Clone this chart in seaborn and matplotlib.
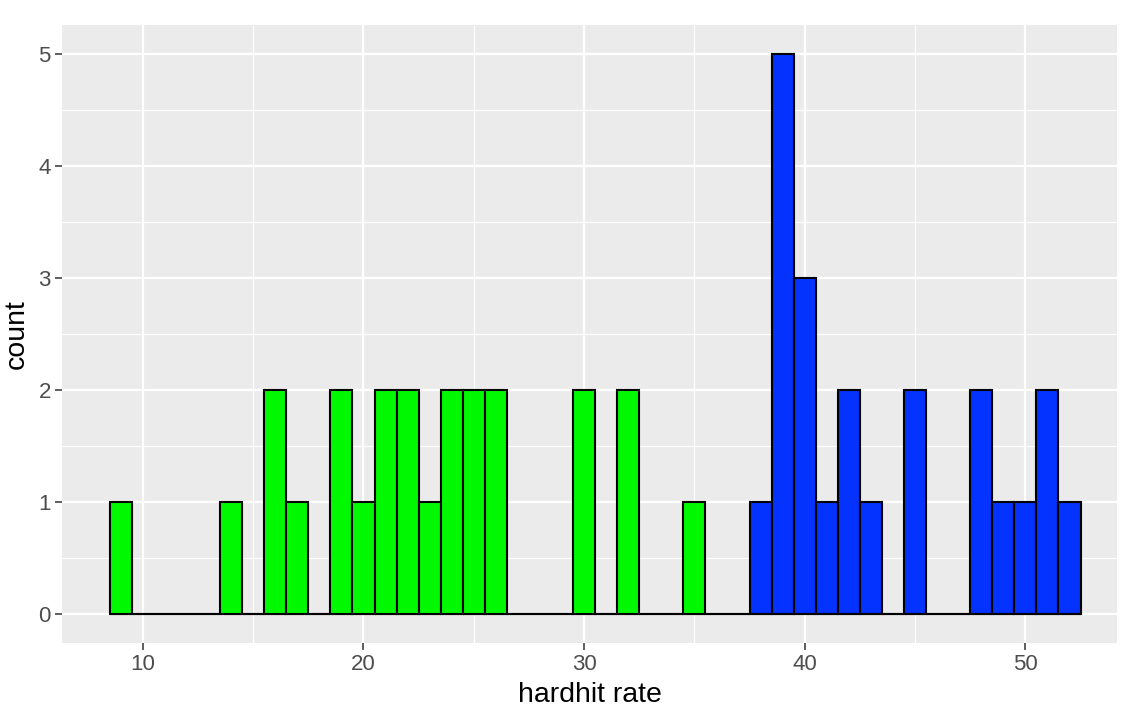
import numpy as np
import pandas as pd
import matplotlib
matplotlib.use("Agg")
import matplotlib.pyplot as plt
import seaborn as sns

# bin centres (width 1) and counts
rates = [9, 14, 16, 17, 19, 20, 21, 22, 23, 24, 25, 26, 30, 32, 35,
         38, 39, 40, 41, 42, 43, 45, 48, 49, 50, 51, 52]
counts = [1, 1, 2, 1, 2, 1, 2, 2, 1, 2, 2, 2, 2, 2, 1,
          1, 5, 3, 1, 2, 1, 2, 2, 1, 1, 2, 1]
groups = ["low"] * 15 + ["high"] * 12
palette = {"low": "#00F900", "high": "#0433FF"}

df = pd.DataFrame({"rate": rates, "count": counts, "group": groups})

sns.set_theme(style="darkgrid")
plt.rcParams["font.family"] = ["Liberation Sans", "DejaVu Sans"]

fig = plt.figure(figsize=(11.46, 7.24), dpi=100)
ax = fig.add_axes([0.054, 0.112, 0.921, 0.8535])
ax.set_facecolor("#EBEBEB")

sns.histplot(data=df, x="rate", weights="count", hue="group", palette=palette,
             binwidth=1, binrange=(8.5, 52.5), multiple="layer", alpha=1,
             edgecolor="black", linewidth=1.5, legend=False, ax=ax)

ax.set_xlim(6.33, 54.17)
ax.set_ylim(-0.259, 5.259)
ax.set_xticks([10, 20, 30, 40, 50])
ax.set_xticks([15, 25, 35, 45], minor=True)
ax.set_yticks([0, 1, 2, 3, 4, 5])
ax.set_yticks(np.arange(0.5, 5, 1), minor=True)
ax.grid(which="major", color="white", linewidth=1.6)
ax.grid(which="minor", color="white", linewidth=0.8)
ax.set_axisbelow(True)
for s in ax.spines.values():
    s.set_visible(False)

ax.tick_params(axis="both", which="major", length=5, width=1.1, color="#333333",
               labelcolor="#4D4D4D", labelsize=16, pad=3, bottom=True, left=True)
ax.tick_params(axis="both", which="minor", length=0)

ax.set_xlabel("hardhit rate", fontsize=20.5, color="black", labelpad=5)
ax.set_ylabel("count", fontsize=20.5, color="black", labelpad=6)

fig.savefig("out.png", dpi=100, facecolor="white")
